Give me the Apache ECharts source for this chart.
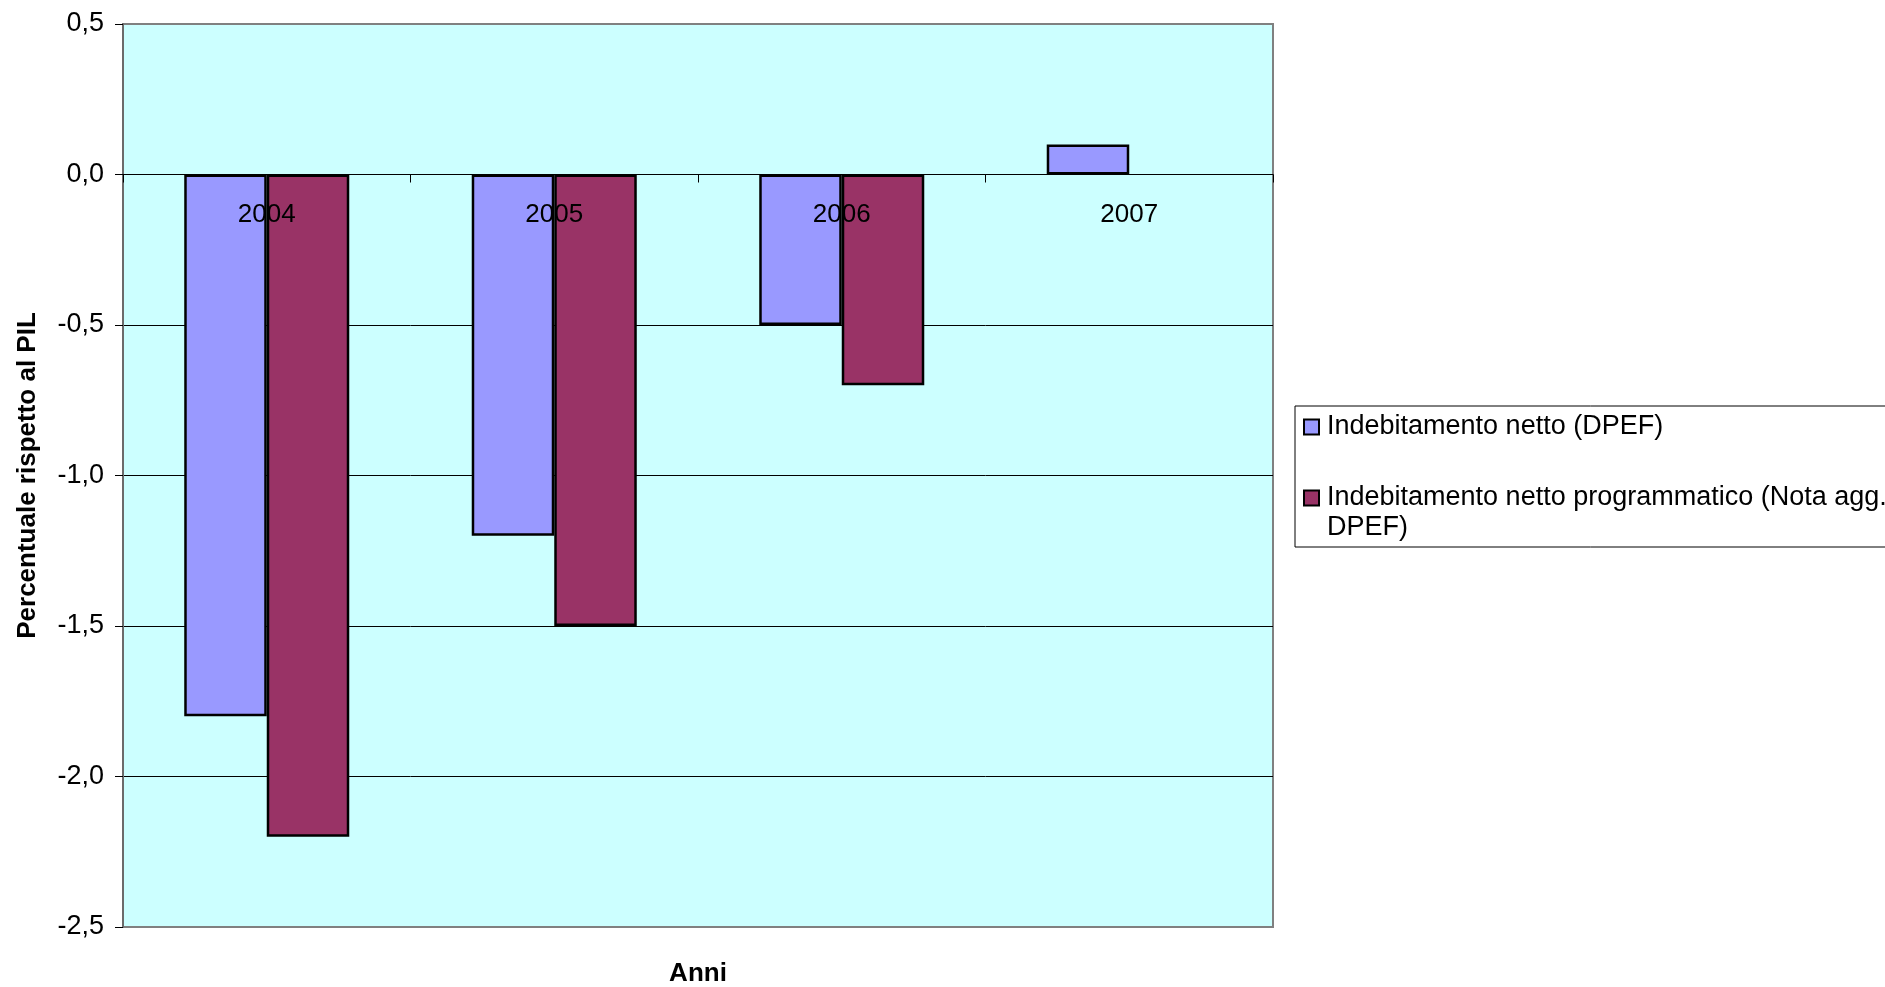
<!DOCTYPE html>
<html>
<head>
<meta charset="utf-8">
<script src="https://cdn.jsdelivr.net/npm/echarts@6/dist/echarts.min.js"></script>
<style>
  html, body { margin: 0; padding: 0; background: #ffffff; }
  #chart { width: 1885px; height: 987px; }
</style>
</head>
<body>
<div id="chart"></div>
<script>
// Anni di riferimento
const anni = ['2004', '2005', '2006', '2007'];

// Nomi delle serie
const serieDpef = 'Indebitamento netto (DPEF)';
const serieNota = 'Indebitamento netto programmatico (Nota agg. DPEF)';

// Valori in percentuale del PIL
const indebitamentoDpef = [-1.8, -1.2, -0.5, 0.1];
const indebitamentoNota = [-2.2, -1.5, -0.7, null];

// Scala dell'asse verticale
const yMin = -2.5;
const yMax = 0.5;
const yStep = 0.5;

const FONT = 'Liberation Sans, Arial, sans-serif';

const chart = echarts.init(document.getElementById('chart'), null, { renderer: 'canvas' });

const barStyle = (color) => ({
  color: color,
  borderColor: '#000000',
  borderWidth: 2.5
});

chart.setOption({
  animation: false,
  backgroundColor: '#ffffff',
  textStyle: { fontFamily: FONT, color: '#000000' },
  grid: {
    left: 123,
    right: 612,
    top: 24,
    bottom: 60,
    show: true,
    backgroundColor: '#CCFFFF',
    borderColor: '#808080',
    borderWidth: 2,
    containLabel: false,
    outerBoundsMode: 'none'
  },
  legend: {
    orient: 'vertical',
    left: 1295,
    top: 406,
    padding: [6, 10, 4, 8],
    icon: 'rect',
    itemWidth: 15,
    itemHeight: 15,
    itemGap: 11,
    borderColor: '#000000',
    borderWidth: 1,
    backgroundColor: '#ffffff',
    selectedMode: false,
    itemStyle: { borderColor: '#000000', borderWidth: 2 },
    // the icon of a wrapped entry sits beside its first line
    formatter: (name) => (name === serieNota ? '\n' + name : name),
    textStyle: {
      fontFamily: FONT,
      fontSize: 27,
      color: '#000000',
      lineHeight: 30,
      width: 575,
      overflow: 'break',
      padding: [0, 0, 0, 3]
    },
    data: [serieDpef, serieNota]
  },
  xAxis: {
    type: 'category',
    data: anni,
    name: 'Anni',
    nameLocation: 'middle',
    nameGap: 34,
    nameTextStyle: { fontFamily: FONT, fontSize: 26, fontWeight: 'bold', color: '#000000' },
    axisLine: { show: true, onZero: true, lineStyle: { color: '#000000', width: 1 } },
    axisTick: { show: true, alignWithLabel: false, length: 8, lineStyle: { color: '#000000', width: 1 } },
    // year labels sit just under the zero line, over the bars
    axisLabel: { fontFamily: FONT, fontSize: 26, color: '#000000', margin: -725 },
    splitLine: { show: false },
    z: 5
  },
  yAxis: {
    type: 'value',
    min: yMin,
    max: yMax,
    interval: yStep,
    name: 'Percentuale rispetto al PIL',
    nameLocation: 'middle',
    nameGap: 82,
    nameRotate: 90,
    nameTextStyle: { fontFamily: FONT, fontSize: 26, fontWeight: 'bold', color: '#000000' },
    axisLine: { show: true, lineStyle: { color: '#6b6b6b', width: 2 } },
    axisTick: { show: true, inside: false, length: 8, lineStyle: { color: '#000000', width: 1 } },
    axisLabel: {
      fontFamily: FONT,
      fontSize: 27,
      color: '#000000',
      margin: 19,
      formatter: (v) => v.toFixed(1).replace('.', ',')
    },
    splitLine: {
      show: true,
      lineStyle: {
        color: ['#808080', '#000000', '#000000', '#000000', '#000000', '#000000', '#808080'],
        width: 1
      }
    },
    z: 0
  },
  series: [
    {
      name: serieDpef,
      type: 'bar',
      data: indebitamentoDpef,
      barGap: '0%',
      barCategoryGap: '42.6%',
      itemStyle: barStyle('#9999FF'),
      z: 2
    },
    {
      name: serieNota,
      type: 'bar',
      data: indebitamentoNota,
      barGap: '0%',
      barCategoryGap: '42.6%',
      itemStyle: barStyle('#993366'),
      z: 2
    }
  ]
});
</script>
</body>
</html>
